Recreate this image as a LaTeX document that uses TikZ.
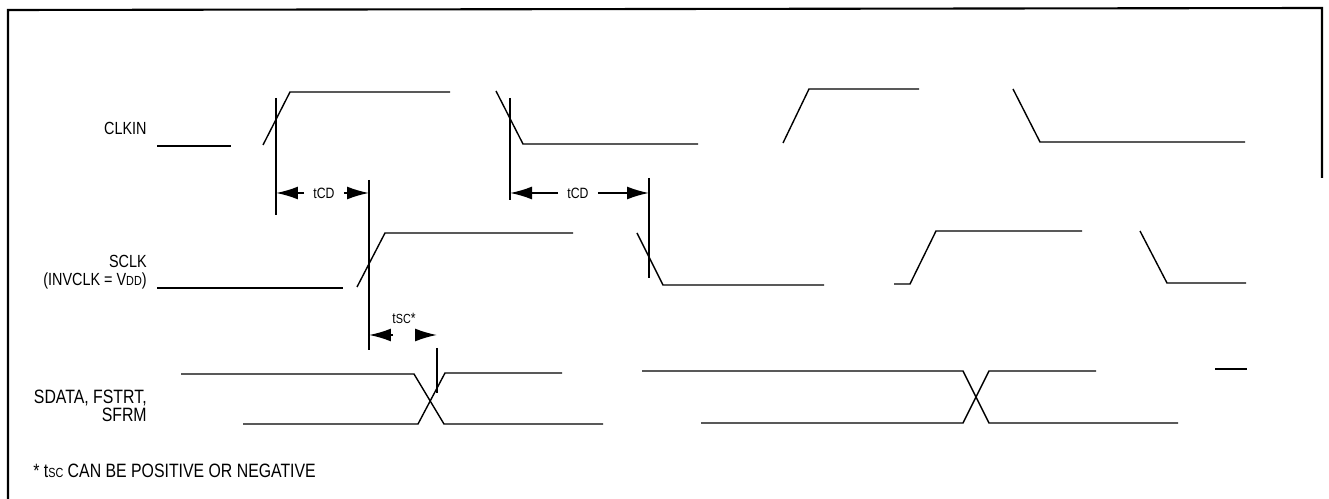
\documentclass[tikz,border=0pt]{standalone}
\usepackage{fontspec}
\setmainfont{Liberation Sans}[FakeStretch=0.82]
\usetikzlibrary{arrows.meta}

\newcommand\subtxt[1]{{\fontsize{7.5}{8}\selectfont #1}}

\tikzset{
	sig/.style={line width=0.8pt},
	refline/.style={line width=1pt},
	dim/.style={line width=1pt,-{Latex[length=0.44cm,width=0.26cm]}},
	lbl/.style={font=\fontsize{10}{10.5}\selectfont,inner sep=0pt},
	tlbl/.style={font=\fontsize{8.5}{9}\selectfont,inner xsep=0.18cm,inner ysep=0pt},
}

\begin{document}
\begin{tikzpicture}[x=0.02cm,y=-0.02cm]
	\useasboundingbox (0,0) rectangle (1329,499);
	
	% Frame
	\draw[line width=1.2pt] (8,499) -- (8,10) -- (1322,8) -- (1322,178);
	
	% CLKIN
	\node[lbl,anchor=east] (clkin) at (147,128) {CLKIN};
	\draw[sig] (157,146) -- (231,146);
	\draw[sig] (263,145) -- (290,92) -- (450,92);
	\draw[sig] (496,91) -- (523,144) -- (698,144);
	\draw[sig] (783,143) -- (809,89) -- (919,89);
	\draw[sig] (1013,89) -- (1040,142) -- (1245,142);
	
	% SCLK
	\node[lbl,anchor=east,align=right] (sclk) at (147,272) {SCLK\\(INVCLK = V\subtxt{DD})};
	\draw[sig] (157,288) -- (343,288);
	\draw[sig] (357,287) -- (385,233) -- (573,233);
	\draw[sig] (637,233) -- (663,285) -- (824,285);
	\draw[sig] (894,284) -- (910,284) -- (936,231) -- (1082,231);
	\draw[sig] (1140,231) -- (1167,283) -- (1246,283);
	
	% SDATA, FSTRT, SFRM
	\node[lbl,anchor=east,align=right,font=\fontsize{11}{9}\selectfont] (sdata) at (147,406) {SDATA, FSTRT,\\SFRM};
	\draw[sig] (181,374) -- (414,374) -- (444,424) -- (603,424);
	\draw[sig] (243,424) -- (418,424) -- (445,373) -- (562,373);
	\draw[sig] (642,371) -- (963,371) -- (989,423) -- (1178,423);
	\draw[sig] (701,423) -- (963,423) -- (989,371) -- (1096,371);
	\draw[sig] (1215,369) -- (1247,369);
	
	% Reference lines
	\draw[refline] (276,98) -- (276,215);
	\draw[refline] (510,98) -- (510,200);
	\draw[refline] (369,180) -- (369,350);
	\draw[refline] (649,178) -- (649,278);
	\draw[refline] (437,348) -- (437,393);
	
	% tCD
	\coordinate (a1) at (276,193);
	\coordinate (a2) at (369,193);
	\node[tlbl] (tcd1) at (324,193) {tCD};
	\draw[dim] (tcd1) -- (a1);
	\draw[dim] (tcd1) -- (a2);
	
	\coordinate (a3) at (510,193);
	\coordinate (a4) at (649,193);
	\node[tlbl] (tcd2) at (578,193) {tCD};
	\draw[dim] (tcd2) -- (a3);
	\draw[dim] (tcd2) -- (a4);
	
	% tSC
	\coordinate (b1) at (369,335);
	\coordinate (b2) at (437,335);
	\node[tlbl,inner sep=0pt] (tsc) at (404,318) {t\subtxt{SC}*};
	\draw[dim] (b1) ++(24,0) -- (b1);
	\draw[dim] (b2) ++(-22,0) -- (b2);
	
	% Note
	\node[lbl,anchor=west,font=\fontsize{11}{12}\selectfont] (note) at (33,471) {* t\subtxt{SC} CAN BE POSITIVE OR NEGATIVE};
\end{tikzpicture}
\end{document}
